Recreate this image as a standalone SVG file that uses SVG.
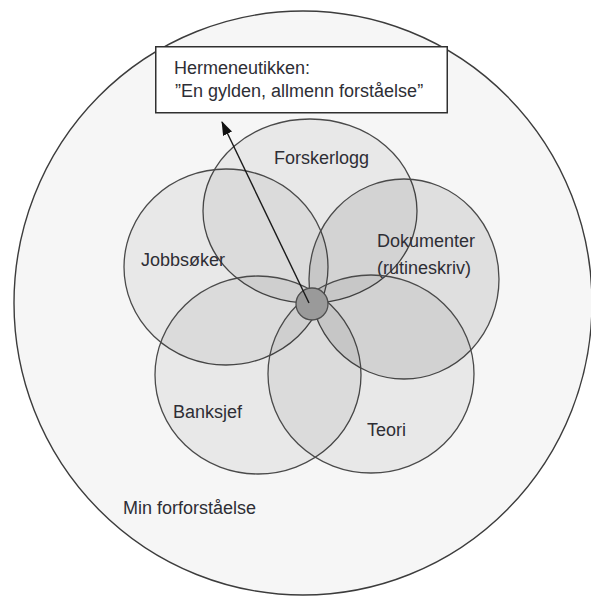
<svg xmlns="http://www.w3.org/2000/svg" width="591" height="596" viewBox="0 0 591 596">
  <defs>
    <style>
      .bg { fill: #ffffff; }
      .outer { fill: #f6f6f6; stroke: #3c3c3c; stroke-width: 1.4; }
      .petal { fill: #000000; fill-opacity: 0.055; stroke: #4a4a4a; stroke-width: 1.3; }
      .petal.dark { fill-opacity: 0.09; }
      .hub { fill: #9a9a9a; stroke: #4e4e4e; stroke-width: 1.3; }
      .box { fill: #ffffff; stroke: #303030; stroke-width: 1.5; }
      .lbl { font-family: "Liberation Sans", Arial, sans-serif; font-size: 18px; fill: #2e2e35; }
      .conn { stroke: #1a1a1a; stroke-width: 1.4; fill: none; }
    </style>
    <marker id="arrow" viewBox="0 0 14 10" refX="13" refY="5" markerWidth="14" markerHeight="10" markerUnits="userSpaceOnUse" orient="auto">
      <path d="M0,0 L14,5 L0,10 z" fill="#111111"/>
    </marker>
  </defs>

  <rect class="bg" x="0" y="0" width="591" height="596"/>

  <g id="node-min-forforstaelse">
    <ellipse class="outer" cx="303" cy="303" rx="289" ry="292"/>
    <text class="lbl" x="123" y="514">Min forforståelse</text>
  </g>

  <g id="node-forskerlogg">
    <ellipse class="petal" cx="310" cy="211" rx="107" ry="92"/>
    <text class="lbl" x="274" y="164">Forskerlogg</text>
  </g>

  <g id="node-jobbsoker">
    <ellipse class="petal" cx="226" cy="267" rx="102" ry="98"/>
    <text class="lbl" x="141" y="266" font-size="17">Jobbsøker</text>
  </g>

  <g id="node-dokumenter">
    <ellipse class="petal dark" cx="404" cy="279" rx="95" ry="100"/>
    <text class="lbl" x="377" y="247">Dokumenter</text>
    <text class="lbl" x="377" y="274">(rutineskriv)</text>
  </g>

  <g id="node-banksjef">
    <ellipse class="petal" cx="258" cy="375" rx="103" ry="99"/>
    <text class="lbl" x="173" y="418">Banksjef</text>
  </g>

  <g id="node-teori">
    <ellipse class="petal" cx="371" cy="374" rx="103" ry="99"/>
    <text class="lbl" x="367" y="436">Teori</text>
  </g>

  <g id="node-senter">
    <circle class="hub" cx="312" cy="304" r="16"/>
  </g>

  <g id="node-hermeneutikken">
    <rect class="box" x="155.75" y="46.75" width="291.5" height="66"/>
    <text class="lbl" x="174" y="74">Hermeneutikken:</text>
    <text class="lbl" x="175" y="97">”En gylden, allmenn forståelse”</text>
  </g>

  <g id="connectors">
    <line class="conn" x1="309" y1="303" x2="222" y2="122" marker-end="url(#arrow)"/>
  </g>
</svg>
